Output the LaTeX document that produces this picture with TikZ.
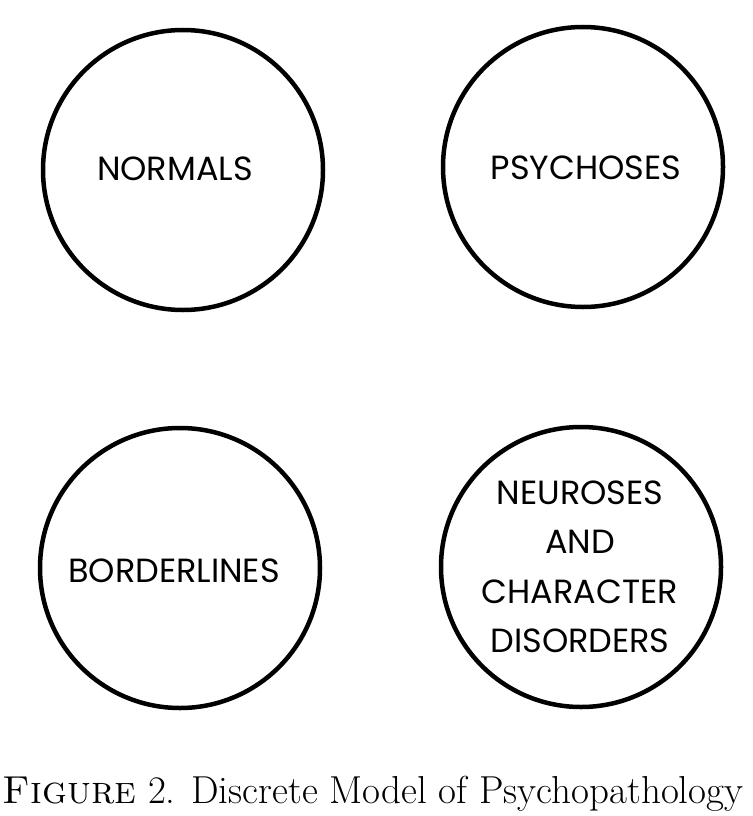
\documentclass[tikz,border=0pt]{standalone}
\usepackage{fontspec}
\newfontfamily\groupfont{Poppins}
\usepackage{tikz}
\usetikzlibrary{positioning}
\tikzset{group/.style={draw,circle,line width=4.5pt,minimum size=280pt,inner sep=0pt}}
\tikzset{group text/.style={font=\groupfont\fontsize{33.5}{49.5}\selectfont,align=center,inner sep=0pt}}

\begin{document}
\begin{tikzpicture}[x=1pt,y=-1pt]
    \useasboundingbox (0,0) rectangle (752,816);
    \node[group] (normals)      at (183,170) {};
    \node[group] (psychoses)    at (583,167) {};
    \node[group] (borderlines)  at (180,568) {};
    \node[group] (neuroses)     at (581,567) {};
    \node[group text] (normals text)     at (175,169) {NORMALS};
    \node[group text] (psychoses text)   at (586,168) {PSYCHOSES};
    \node[group text] (borderlines text) at (174,571) {BORDERLINES};
    \node[group text] (neuroses text)    at (580,567) {NEUROSES\\AND\\CHARACTER\\DISORDERS};
    \node[font=\fontsize{39}{44}\selectfont,inner sep=0pt] (caption) at (373,794)
        {\textsc{Figure} 2. Discrete Model of Psychopathology};
\end{tikzpicture}
\end{document}
